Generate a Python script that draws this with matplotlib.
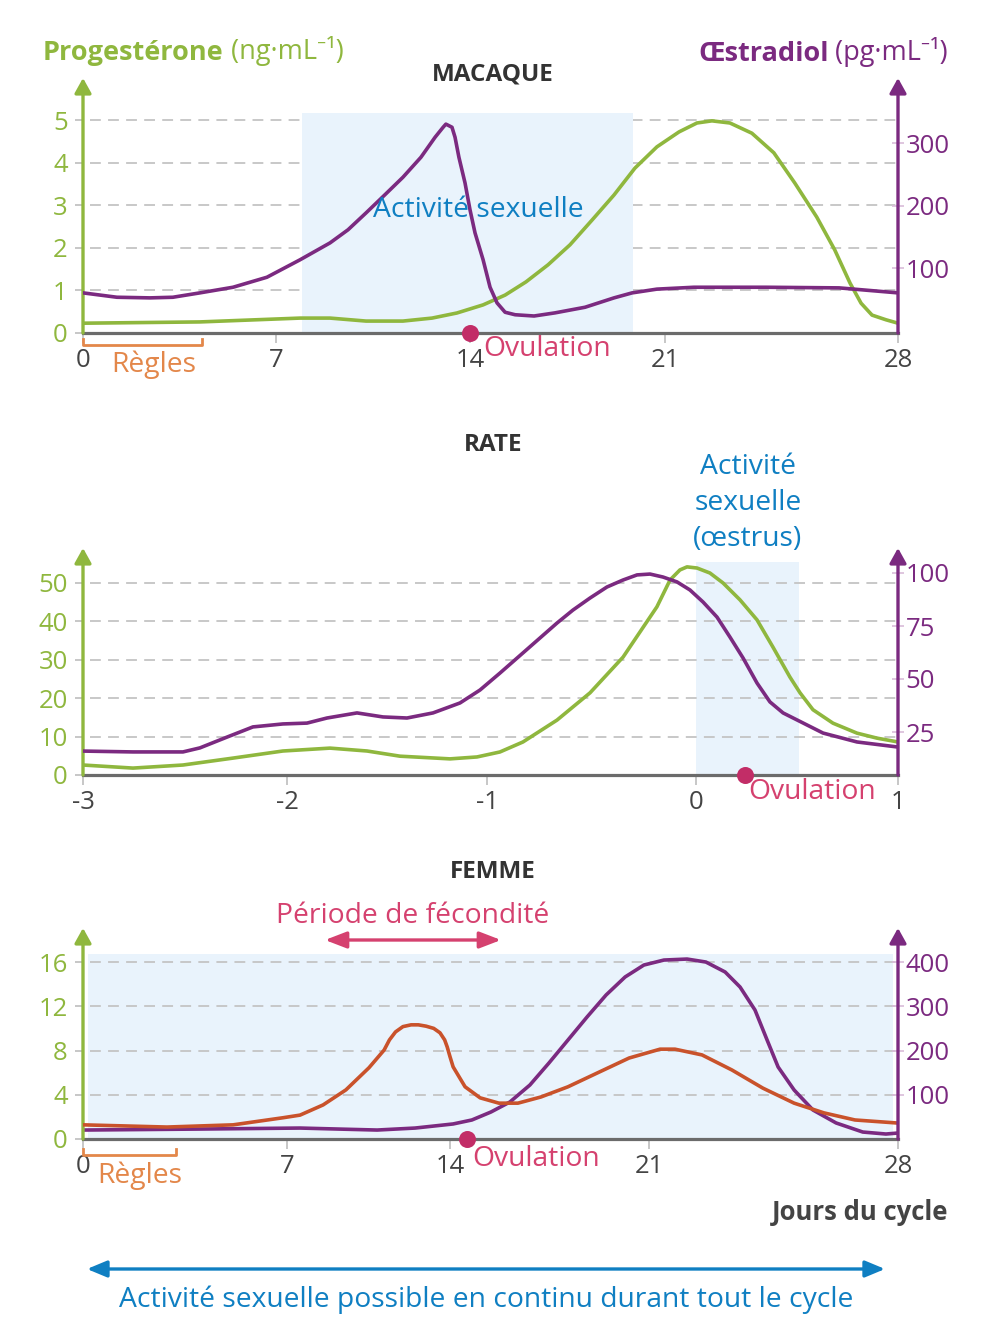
import numpy as np
import matplotlib
matplotlib.use("Agg")
import matplotlib.pyplot as plt

plt.rcParams['font.family'] = ['Open Sans', 'Noto Sans', 'DejaVu Sans']

# ---------------- data ----------------
# Macaque: day of cycle, oestradiol (pg/mL, purple) and progesterone (ng/mL, green)
mac_e2_day = [0, 1.23, 2.43, 3.26, 4.24, 5.44, 6.67, 7.87, 8.95, 9.60, 10.25, 10.93, 11.58,
              12.23, 12.74, 13.03, 13.13, 13.35, 13.46, 13.60, 13.82, 14.0, 14.18, 14.47,
              14.72, 14.97, 15.26, 15.62, 16.30, 17.05, 18.13, 19.17, 19.82, 20.71, 21.87,
              24.03, 26.23, 28]
mac_e2 = [61, 54, 53, 54, 61, 70, 86, 114, 141, 162, 189, 218, 246,
          278, 310, 326, 331, 326, 310, 278, 237, 194, 157, 114,
          70, 45, 30, 26, 24, 29, 38, 53, 61, 67, 70,
          70, 69, 61]
mac_p4_day = [0, 4.24, 7.87, 8.95, 10.25, 11.58, 12.63, 13.53, 14.47, 15.26, 16.01, 16.80,
              17.59, 18.38, 19.17, 19.92, 20.71, 21.42, 21.96, 22.41, 22.95, 23.61, 24.27,
              24.90, 25.56, 26.10, 26.56, 26.89, 27.22, 27.64, 28]
mac_p4 = [0.23, 0.26, 0.35, 0.35, 0.28, 0.28, 0.35, 0.47, 0.66, 0.89, 1.20, 1.60,
          2.07, 2.65, 3.24, 3.87, 4.37, 4.72, 4.93, 4.98, 4.93, 4.69, 4.23,
          3.52, 2.72, 1.95, 1.17, 0.70, 0.42, 0.31, 0.23]

# Rat: days around ovulation
rat_e2_day = [-3.0, -2.755, -2.51, -2.427, -2.294, -2.167, -2.02, -1.90, -1.80, -1.65, -1.52,
              -1.40, -1.27, -1.135, -1.035, -0.938, -0.828, -0.665, -0.589, -0.507, -0.426,
              -0.349, -0.282, -0.220, -0.158, -0.091, -0.029, 0.035, 0.104, 0.168, 0.233,
              0.302, 0.366, 0.431, 0.629, 0.797, 1.0]
rat_e2 = [16.0, 15.6, 15.6, 17.5, 22.6, 27.4, 28.8, 29.2, 31.6, 34.0, 32.1,
          31.6, 34.0, 38.7, 44.8, 52.8, 62.3, 76.4, 82.5, 88.2, 93.4,
          96.7, 99.1, 99.5, 98.1, 95.8, 92.0, 86.3, 79.2, 69.8, 59.9,
          48.1, 39.2, 34.0, 24.5, 20.3, 17.9]
rat_p4_day = [-3.0, -2.755, -2.51, -2.265, -2.02, -1.785, -1.60, -1.435, -1.185, -1.05, -0.938,
              -0.828, -0.665, -0.507, -0.349, -0.187, -0.124, -0.077, -0.043, 0.005, 0.069,
              0.134, 0.218, 0.302, 0.381, 0.465, 0.515, 0.579, 0.678, 0.797, 0.896, 1.0]
rat_p4 = [2.6, 1.8, 2.6, 4.4, 6.25, 7.0, 6.25, 4.9, 4.2, 4.7, 6.0,
          8.6, 14.3, 21.4, 30.7, 43.8, 50.8, 53.4, 54.2, 53.9, 52.6,
          50.0, 45.6, 40.4, 33.3, 25.5, 21.4, 17.0, 13.5, 10.9, 9.6, 8.6]

# Femme: progesterone (ng/mL, purple) and oestradiol (pg/mL, orange)
fem_p4_day = [0, 4.02, 7.56, 9.19, 10.87, 12.50, 14.11, 14.77, 15.44, 16.11, 16.81, 17.48,
              18.15, 18.82, 19.49, 20.16, 20.82, 21.42, 22.07, 22.60, 23.14, 23.56, 23.98,
              24.32, 24.63, 25.08, 25.61, 26.26, 27.01, 27.66, 28]
fem_p4 = [0.81, 0.90, 0.99, 0.90, 0.81, 0.99, 1.36, 1.72, 2.44, 3.35, 4.88, 6.87,
          8.95, 11.03, 13.02, 14.65, 15.73, 16.18, 16.27, 16.00, 15.10, 13.74, 11.66,
          8.95, 6.51, 4.43, 2.62, 1.45, 0.63, 0.45, 0.54]
fem_e2_day = [0, 2.88, 5.15, 6.86, 7.56, 8.55, 9.53, 10.52, 11.17, 11.40, 11.66, 11.98,
              12.33, 12.64, 12.97, 13.30, 13.57, 13.77, 13.88, 14.0, 14.11, 14.53, 15.06,
              15.72, 16.39, 17.20, 18.15, 19.24, 20.30, 21.31, 21.73, 22.49, 23.33, 24.20,
              25.08, 25.92, 26.79, 28]
fem_e2 = [32, 27, 32, 48, 54, 77, 111, 161, 201, 224, 242, 254,
          258, 258, 255, 250, 240, 224, 208, 186, 163, 118, 93,
          81, 81, 95, 118, 151, 183, 203, 203, 190, 156, 115,
          81, 59, 43, 36]

cycle_ticks = [0, 7, 14, 21, 28]
rat_ticks = [-3, -2, -1, 0, 1]

# ---------------- style ----------------
W, H = 993, 1335
GREEN = '#8fb73e'
PURPLE = '#7b2a80'
ORANGE_RED = '#c9522b'
REGLES = '#e3874a'
PINK = '#d5416f'
DOT = '#c22d67'
BLUE = '#0f7fc2'
SHADE = '#e9f3fc'
GRID = '#c4c4c4'
AXIS = '#6b6b6b'
TXT = '#444444'
FS = 18.5      # tick labels
FT = 20.3      # annotations

fig = plt.figure(figsize=(W / 100, H / 100), dpi=100)


def fx(px):
    return px / W


def fy(py):
    return 1 - py / H


def piecewise(a, b):
    a = np.asarray(a, float)
    b = np.asarray(b, float)

    def f(x):
        x = np.asarray(x, float)
        y = np.interp(x, a, b)
        y = np.where(x < a[0], b[0] + (x - a[0]) * (b[1] - b[0]) / (a[1] - a[0]), y)
        y = np.where(x > a[-1], b[-1] + (x - a[-1]) * (b[-1] - b[-2]) / (a[-1] - a[-2]), y)
        return y
    return f


def panel(top, base, xdays, xpx, xlabels, lcal, rcal, lticks, rticks):
    ax = fig.add_axes([fx(83), fy(base), (898 - 83) / W, (base - top) / H])
    ax.set_xscale('function', functions=(piecewise(xdays, xpx), piecewise(xpx, xdays)))
    ax.set_xlim(xdays[0], xdays[-1])
    p0, k = lcal
    ax.set_ylim((p0 - base) / k, (p0 - top) / k)
    ax2 = ax.twinx()
    p0, k = rcal
    ax2.set_ylim((p0 - base) / k, (p0 - top) / k)
    for a in (ax, ax2):
        for s in a.spines.values():
            s.set_visible(False)
        a.patch.set_visible(False)
    ax.set_xticks(xdays)
    ax.set_xticklabels(xlabels)
    ax.tick_params(axis='x', length=7, width=1.2, color='#bdbdbd', labelcolor=TXT,
                   labelsize=FS, pad=4)
    ax.set_yticks(lticks)
    ax.set_yticklabels([str(v) for v in lticks])
    ax.tick_params(axis='y', length=6, width=1.2, color='#bdbdbd', labelcolor=GREEN,
                   labelsize=FS, pad=5)
    ax2.set_yticks(rticks)
    ax2.set_yticklabels([str(v) for v in rticks])
    ax2.tick_params(axis='y', direction='inout', length=9, width=1.2, color='#d9bcd9',
                    labelcolor=PURPLE, labelsize=FS, pad=1)
    # grid
    for v in lticks[1:]:
        ax.axhline(v, xmin=7 / 815, xmax=1, color=GRID, lw=1.3, ls=(0, (6, 4)), zorder=1)
    # axes lines
    ax.axhline(0, color=AXIS, lw=2.3, zorder=3, clip_on=False)
    ax.annotate('', xy=(0, 1), xytext=(0, 0), xycoords='axes fraction',
                arrowprops=dict(arrowstyle='-|>,head_length=0.9,head_width=0.5', color=GREEN,
                                lw=2.4, shrinkA=0, shrinkB=0, mutation_scale=10),
                annotation_clip=False)
    ax2.annotate('', xy=(1, 1), xytext=(1, 0), xycoords='axes fraction',
                 arrowprops=dict(arrowstyle='-|>,head_length=0.9,head_width=0.5', color=PURPLE,
                                 lw=2.4, shrinkA=0, shrinkB=0, mutation_scale=10),
                 annotation_clip=False)
    return ax, ax2


def yfrac(py, top, base):
    return (base - py) / (base - top)


def text(px, py, s, **kw):
    kw.setdefault('size', FT)
    kw.setdefault('va', 'center')
    return fig.text(fx(px), fy(py), s, **kw)


LINE = dict(lw=2.6, solid_joinstyle='round', solid_capstyle='round', zorder=2)

# ---------------- MACAQUE ----------------
top, base = 78, 333
ax, ax2 = panel(top, base, cycle_ticks, [83, 276, 470, 665, 898], [str(t) for t in cycle_ticks],
                (333, 42.6), (331, 0.625), [0, 1, 2, 3, 4, 5], [100, 200, 300])
ax.fill_between([7.94, 19.86], 0, 5.16, color=SHADE, lw=0, zorder=1.5)
ax.plot(mac_p4_day, mac_p4, color=GREEN, **LINE)
ax2.plot(mac_e2_day, mac_e2, color=PURPLE, **LINE)
ax.scatter([14], [0], s=150, color=DOT, zorder=6, clip_on=False, linewidths=0)
tr = ax.get_xaxis_transform()
ax.plot([0, 0, 4.32, 4.32], [yfrac(339, top, base), yfrac(345, top, base),
                             yfrac(345, top, base), yfrac(339, top, base)],
        transform=tr, color=REGLES, lw=2, clip_on=False)
text(111, 365, 'Règles', color=REGLES, ha='left')
text(483, 349, 'Ovulation', color=PINK, ha='left')
text(478, 210, 'Activité sexuelle', color=BLUE, ha='center')
text(493, 74, 'MACAQUE', weight='bold', color='#333333', ha='center', size=17.5)
mac_ax = ax

# headers
t1 = fig.text(fx(43), fy(60), 'Progestérone', weight='bold', color=GREEN, size=19.5,
              va='baseline')
mac_ax.annotate(' (ng·mL⁻¹)', xy=(1, 0), xycoords=t1, va='bottom', ha='left',
                color=GREEN, size=19.5, annotation_clip=False)
t2 = fig.text(fx(948), fy(60), ' (pg·mL⁻¹)', color=PURPLE, size=19.5, va='baseline',
              ha='right')
mac_ax.annotate('Œstradiol', xy=(0, 0), xycoords=t2, va='bottom', ha='right',
                color=PURPLE, size=19.5, weight='bold', annotation_clip=False)

# ---------------- RATE ----------------
top, base = 548, 775
ax, ax2 = panel(top, base, rat_ticks, [83, 287, 487, 696, 898], [str(t) for t in rat_ticks],
                (775, 3.84), (785, 2.12), [0, 10, 20, 30, 40, 50], [25, 50, 75, 100])
ax.fill_between([0, 0.508], 0, 55.5, color=SHADE, lw=0, zorder=0.5)
ax.plot(rat_p4_day, rat_p4, color=GREEN, **LINE)
ax2.plot(rat_e2_day, rat_e2, color=PURPLE, **LINE)
ax.scatter([0.243], [0], s=150, color=DOT, zorder=6, clip_on=False, linewidths=0)
text(748, 792, 'Ovulation', color=PINK, ha='left')
text(748, 503, 'Activité\nsexuelle\n(œstrus)', color=BLUE, ha='center', linespacing=1.37)
text(493, 445, 'RATE', weight='bold', color='#333333', ha='center', size=17.5)

# ---------------- FEMME ----------------
top, base = 928, 1139
ax, ax2 = panel(top, base, cycle_ticks, [83, 287, 450, 649, 898], [str(t) for t in cycle_ticks],
                (1139, 11.06), (1139, 0.4425), [0, 4, 8, 12, 16], [100, 200, 300, 400])
ax.fill_between([0.17, 27.86], 0, 16.73, color=SHADE, lw=0, zorder=0.5)
ax.plot(fem_p4_day, fem_p4, color=PURPLE, **LINE)
ax2.plot(fem_e2_day, fem_e2, color=ORANGE_RED, **LINE)
ax.scatter([14.6], [0], s=150, color=DOT, zorder=6, clip_on=False, linewidths=0)
tr = ax.get_xaxis_transform()
ax.plot([0, 0, 3.19, 3.19], [yfrac(1149, top, base), yfrac(1155, top, base),
                             yfrac(1155, top, base), yfrac(1149, top, base)],
        transform=tr, color=REGLES, lw=2, clip_on=False)
text(97, 1176, 'Règles', color=REGLES, ha='left')
text(472, 1159, 'Ovulation', color=PINK, ha='left')
text(493, 872, 'FEMME', weight='bold', color='#333333', ha='center', size=17.5)
text(413, 916, 'Période de fécondité', color=PINK, ha='center')
ax.annotate('', xy=(fx(501), fy(940)), xytext=(fx(325), fy(940)), xycoords='figure fraction',
            arrowprops=dict(arrowstyle='<|-|>,head_length=1.3,head_width=0.5', color=PINK,
                            lw=2.4, shrinkA=0, shrinkB=0, mutation_scale=10),
            annotation_clip=False)
text(948, 1213, 'Jours du cycle', weight='bold', color=TXT, ha='right', size=18.5)

ax.annotate('', xy=(fx(885), fy(1269)), xytext=(fx(87), fy(1269)), xycoords='figure fraction',
            arrowprops=dict(arrowstyle='<|-|>,head_length=1.2,head_width=0.5', color=BLUE,
                            lw=2.4, shrinkA=0, shrinkB=0, mutation_scale=10),
            annotation_clip=False)
text(486, 1300, 'Activité sexuelle possible en continu durant tout le cycle', color=BLUE,
     ha='center')

fig.savefig('out.png', dpi=100)
